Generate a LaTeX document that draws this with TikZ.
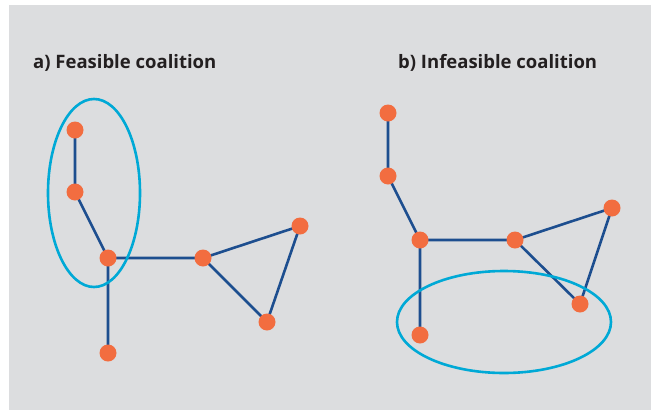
\documentclass[tikz,border=0pt]{standalone}
\usepackage{fontspec}
\setmainfont{Open Sans}
\usetikzlibrary{backgrounds}
\definecolor{panel}{HTML}{DCDDDF}
\definecolor{vertex}{HTML}{F26D40}
\definecolor{link}{HTML}{1D4E8F}
\definecolor{ring}{HTML}{00A9D6}
\definecolor{caption}{HTML}{231F20}
\begin{document}
\begin{tikzpicture}[x=1pt,y=-1pt,
  vtx/.style={circle,fill=vertex,minimum size=17pt,inner sep=0pt},
  edge/.style={draw=link,line width=2.6pt},
  group/.style={draw=ring,line width=2.6pt},
  title/.style={anchor=base west,inner sep=0pt,text=caption,font=\fontsize{18.5}{22}\selectfont\bfseries}]
\useasboundingbox (0,0) rectangle (651,410);

% panel a
\node[title] (ta) at (33,68) {a) Feasible coalition};
\node[vtx] (a1) at (75,130) {};
\node[vtx] (a2) at (75,192) {};
\node[vtx] (a3) at (108,258) {};
\node[vtx] (a4) at (108,353) {};
\node[vtx] (a5) at (203,258) {};
\node[vtx] (a6) at (300,226) {};
\node[vtx] (a7) at (267,322) {};

% panel b
\node[title] (tb) at (398,68) {b) Infeasible coalition};
\node[vtx] (b1) at (388,113) {};
\node[vtx] (b2) at (388,176) {};
\node[vtx] (b3) at (420,240) {};
\node[vtx] (b4) at (420,335) {};
\node[vtx] (b5) at (515,240) {};
\node[vtx] (b6) at (612,208) {};
\node[vtx] (b7) at (580,304) {};

\begin{scope}[on background layer]
  \fill[panel] (9,5) rectangle (651,410);
  \draw[edge] (a1.center) -- (a2.center) -- (a3.center) -- (a4.center);
  \draw[edge] (a3.center) -- (a5.center) -- (a6.center) -- (a7.center) -- (a5.center);
  \draw[group] (94,193) ellipse [x radius=46, y radius=94];
  \draw[edge] (b1.center) -- (b2.center) -- (b3.center) -- (b4.center);
  \draw[edge] (b3.center) -- (b5.center) -- (b6.center) -- (b7.center) -- (b5.center);
  \draw[group] (504,322) ellipse [x radius=107, y radius=51];
\end{scope}
\end{tikzpicture}
\end{document}
